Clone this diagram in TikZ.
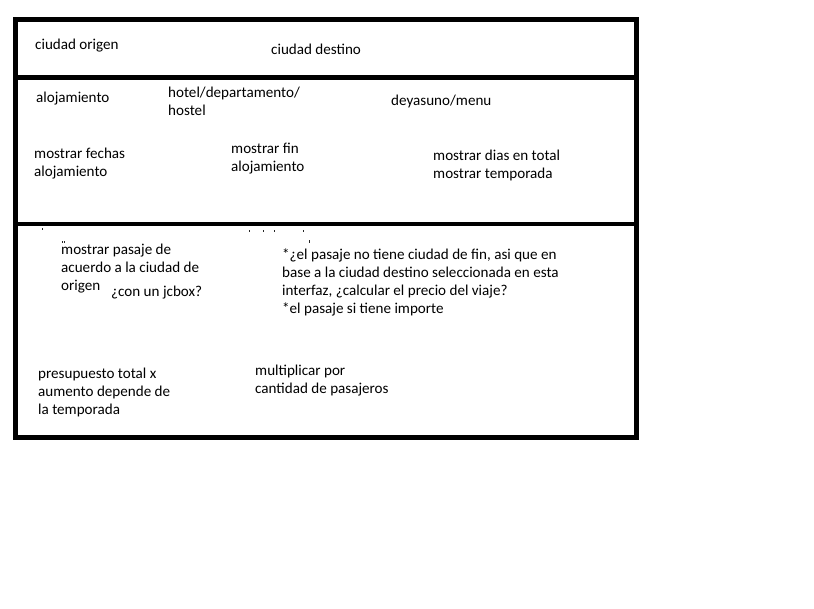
\documentclass[tikz,border=0pt]{standalone}
\usepackage{fontspec}
\setmainfont{Carlito}
\begin{document}
\begin{tikzpicture}[x=1pt,y=-1pt,
  lbl/.style={anchor=base west,inner sep=0pt,align=left,font=\fontsize{15.1}{18}\selectfont,text=black},
  frame/.style={draw=black,line width=5pt},
  divider/.style={draw=black,line width=4.5pt},
  speck/.style={fill=black!85}]
\useasboundingbox (0,0) rectangle (814,609);
\fill[white] (0,0) rectangle (814,609);
% frame and dividers
\coordinate (tl) at (15,20);
\coordinate (br) at (636,437);
\draw[frame] (tl) rectangle (br);
\coordinate (d1l) at (15,77.5);
\coordinate (d1r) at (636,77.5);
\coordinate (d2l) at (15,224);
\coordinate (d2r) at (636,224);
\draw[divider] (d1l) -- (d1r);
\draw[divider] (d2l) -- (d2r);
% specks left from erased text
\fill[speck] (41.5,228.5) rectangle (43,230);
\fill[speck] (61.5,241.5) rectangle (62.7,243);
\fill[speck] (63.8,241.5) rectangle (65,243);
\fill[speck] (248.5,230.5) rectangle (249.7,231.7);
\fill[speck] (262.5,230.5) rectangle (263.7,231.7);
\fill[speck] (273.5,230) rectangle (275,232);
\fill[speck] (302.5,230.5) rectangle (303.7,231.7);
\fill[speck] (308.5,240.5) rectangle (310,243);
% section 1 (anchors are at the baseline of the last line)
\node[lbl] (orig) at (35,49.5) {ciudad origen};
\node[lbl] (dest) at (271,54.5) {ciudad destino};
% section 2
\node[lbl] (aloj) at (36,102.5) {alojamiento};
\node[lbl] (tipo) at (168,115.5) {hotel/departamento/\\hostel};
\node[lbl] (menu) at (391,105.5) {deyasuno/menu};
\node[lbl] (fechas) at (34,176.5) {mostrar fechas\\alojamiento};
\node[lbl] (fin) at (231,171.5) {mostrar fin\\alojamiento};
\node[lbl] (dias) at (433,178.5) {mostrar dias en total\\mostrar temporada};
% section 3
\node[lbl] (pasaje) at (61,291) {mostrar pasaje de\\acuerdo a la ciudad de\\origen};
\node[lbl] (jcbox) at (111,296.5) {¿con un jcbox?};
\node[lbl] (nota) at (282,314) {*¿el pasaje no tiene ciudad de fin, asi que en\\base a la ciudad destino seleccionada en esta\\interfaz, ¿calcular el precio del viaje?\\*el pasaje si tiene importe};
\node[lbl] (presu) at (38,414.5) {presupuesto total x\\aumento depende de\\la temporada};
\node[lbl] (mult) at (255,393.5) {multiplicar por\\cantidad de pasajeros};
\end{tikzpicture}
\end{document}
